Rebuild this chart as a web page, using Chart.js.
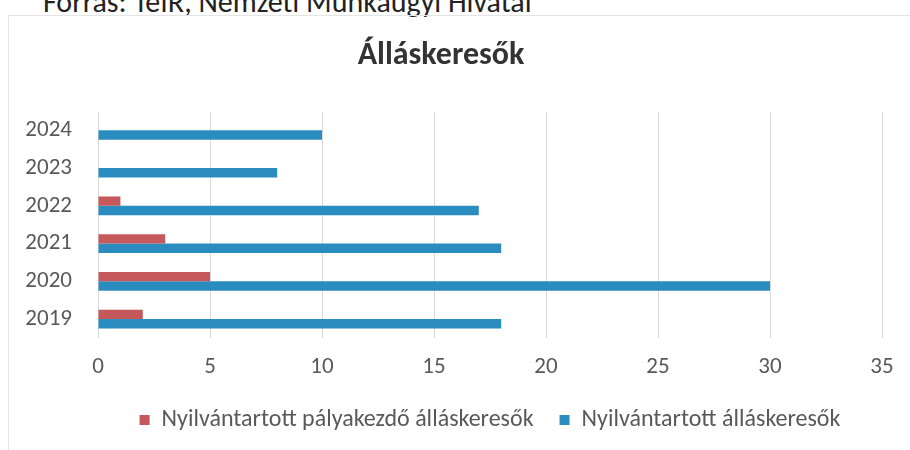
<!DOCTYPE html>
<html>
<head>
<meta charset="utf-8">
<script src="https://cdn.jsdelivr.net/npm/chart.js@4.4.1/dist/chart.umd.min.js"></script>
<style>
  html, body { margin: 0; padding: 0; background: #fff; }
  #wrap { position: relative; width: 910px; height: 450px; overflow: hidden; }
  #source {
    position: absolute; left: 43px; top: -13px; line-height: 30px;
    font-family: Carlito, 'Open Sans', sans-serif; font-size: 30px; color: #222;
    white-space: nowrap;
  }
  #frame {
    position: absolute; left: 8px; top: 15px; width: 920px; height: 460px;
    border: 1px solid #e4e4e4; box-sizing: border-box;
  }
  #stats { position: absolute; left: 0; top: 0; }
</style>
</head>
<body>
<div id="wrap">
  <div id="source">Forrás: TeIR, Nemzeti Munkaügyi Hivatal</div>
  <div id="frame"></div>
  <canvas id="stats" width="910" height="450"></canvas>
</div>
<script>
'use strict';

var years = ['2024', '2023', '2022', '2021', '2020', '2019'];
var palyakezdo = [0, 0, 1, 3, 5, 2];
var osszes = [10, 8, 17, 18, 30, 18];
var xTicks = [0, 5, 10, 15, 20, 25, 30, 35];

var fontFam = "Carlito, 'Open Sans', sans-serif";
var ctx = document.getElementById('stats');

var barChart = new Chart(ctx, {
  type: 'bar',
  data: {
    labels: years,
    datasets: [{
      label: 'Nyilvántartott pályakezdő álláskeresők',
      backgroundColor: '#c4585a',
      data: palyakezdo,
    }, {
      label: 'Nyilvántartott álláskeresők',
      backgroundColor: '#2b8cbf',
      data: osszes,
    }],
  },
  options: {
    indexAxis: 'y',
    responsive: false,
    animation: false,
    categoryPercentage: 0.5,
    barPercentage: 1,
    layout: { padding: { left: 0, right: 28, top: 0, bottom: 8 } },
    plugins: {
      title: {
        display: true,
        text: 'Álláskeresők',
        color: '#333',
        font: { family: fontFam, size: 32, weight: 'bold' },
        padding: { top: 37, bottom: 36 },
      },
      legend: {
        position: 'bottom',
        fullSize: false,
        labels: {
          color: '#595959',
          font: { family: fontFam, size: 24 },
          boxWidth: 10,
          boxHeight: 10,
          padding: 26,
        },
      },
      tooltip: { enabled: false },
    },
    scales: {
      x: {
        min: 0,
        max: 35,
        afterBuildTicks: function(scale) {
          scale.ticks = xTicks.map(function(v) { return { value: v }; });
        },
        // axis just tall enough for the tick labels
        afterFit: function(scale) { scale.height = 44; },
        grid: { color: '#d9d9d9', drawTicks: false },
        border: { display: false },
        ticks: {
          color: '#595959',
          padding: 15,
          font: { family: fontFam, size: 23 },
        },
      },
      y: {
        afterFit: function(scale) { scale.width = 98; },
        grid: { display: false },
        border: { display: false },
        ticks: {
          color: '#595959',
          padding: 18,
          font: { family: fontFam, size: 23 },
        },
      },
    },
  },
});
</script>
</body>
</html>
